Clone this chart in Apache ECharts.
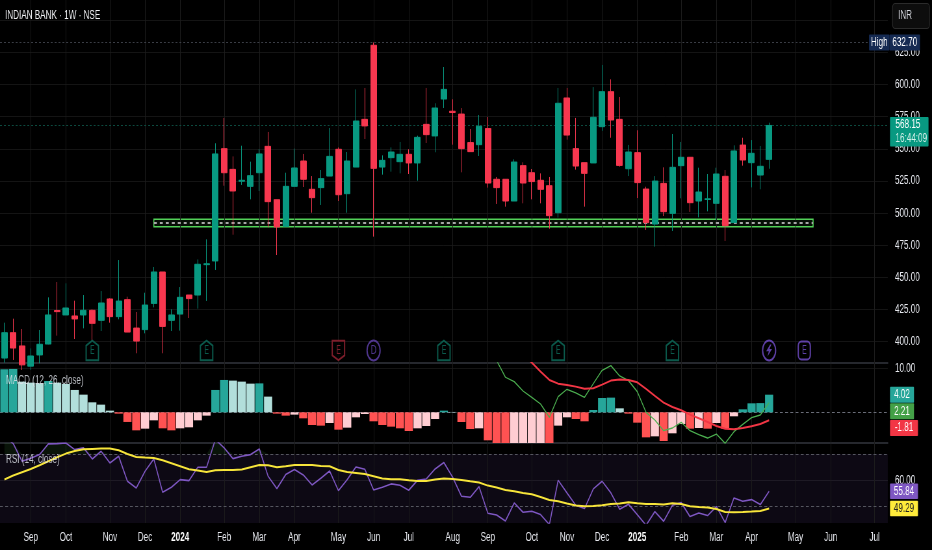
<!DOCTYPE html>
<html>
<head>
<meta charset="utf-8">
<style>html,body{margin:0;padding:0;background:#000;overflow:hidden;width:932px;height:550px;}
#c{width:1434px;height:550px;transform:scaleX(0.64993);transform-origin:0 0;}</style>
<script src="https://cdn.jsdelivr.net/npm/echarts@6/dist/echarts.min.js"></script>
</head>
<body>
<div id="c"></div>
<script>
const FONT = '"Liberation Sans",sans-serif';
const SLOTS = 101;
const tickIndex = [3,7,12,16,20,25,29,33,38,42,46,51,55,60,64,68,72,77,81,85,90,94,99];
const tickLabels = ['Sep','Oct','Nov','Dec','2024','Feb','Mar','Apr','May','Jun','Jul','Aug','Sep','Oct','Nov','Dec','2025','Feb','Mar','Apr','May','Jun','Jul'];
const priceTicks = [400,425,450,475,500,525,550,575,600,625,650];
const priceLabels = [400,425,450,475,500,525,550,575,600,625];

const opens = [387.3,407.0,396.7,381.0,389.7,398.2,424.2,420.8,420.0,420.8,424.4,416.6,433.2,419.5,432.7,410.6,409.4,429.8,454.2,416.6,421.5,436.3,436.3,459.9,462.8,550.1,534.0,524.8,520.8,531.4,551.9,510.4,489.7,520.8,540.5,518.5,519.8,528.8,549.6,515.1,535.8,572.9,630.5,535.8,543.1,540.0,545.7,539.0,569.0,560.0,588.7,579.2,577.0,554.8,553.2,565.7,526.3,526.3,509.4,536.9,531.4,525.5,521.3,500.3,589.5,550.1,539.2,539.0,567.2,594.4,572.9,534.5,547.0,518.7,491.5,523.1,499.8,536.9,543.4,509.4,510.6,507.6,528.6,492.6,552.9,539.2,529.6,541.8];
const closes = [407.0,395.1,382.0,388.9,398.0,420.8,423.4,426.2,417.7,424.4,414.3,430.1,419.5,431.6,407.5,400.5,428.5,454.2,411.9,420.8,434.5,433.5,460.2,460.6,546.0,531.4,517.2,525.5,529.1,546.0,508.9,489.2,520.8,535.1,526.3,512.0,526.8,544.1,514.3,540.5,571.6,567.8,534.8,541.0,547.5,545.7,539.0,558.9,561.0,581.7,596.2,578.2,550.1,547.8,567.5,523.4,519.8,509.4,539.7,523.4,524.5,518.5,498.0,585.4,560.7,536.6,530.9,574.5,594.4,572.4,537.1,547.5,523.7,492.6,524.9,501.1,535.6,543.4,508.1,516.4,511.1,530.4,490.2,548.3,541.3,546.5,536.4,568.15];
const lows = [383.7,385.8,378.0,378.0,383.2,398.0,404.7,420.8,402.1,410.4,400.0,408.3,414.8,417.4,407.5,391.0,406.5,426.7,391.0,408.3,408.6,418.4,425.7,431.7,455.8,521.3,483.2,521.9,510.7,517.2,488.9,467.4,489.7,520.8,520.3,500.3,506.3,528.8,509.4,500.3,535.8,557.6,481.7,529.9,532.2,530.9,530.4,525.2,554.5,547.3,581.7,553.2,531.7,547.8,544.4,519.8,507.1,505.0,509.4,507.6,510.7,507.6,487.9,496.5,557.1,533.8,505.0,539.0,563.9,558.6,536.1,528.8,511.7,486.9,473.9,497.7,486.1,511.5,500.9,496.7,501.4,494.6,478.3,492.6,536.9,520.0,518.5,534.5];
const highs = [414.8,417.9,409.9,394.8,409.1,434.5,446.4,445.4,431.9,436.3,425.2,439.4,433.7,463.5,435.0,423.1,438.1,458.1,454.2,425.2,442.5,436.3,464.0,479.6,554.3,574.0,544.1,552.4,540.0,549.8,563.1,510.4,531.4,550.1,546.0,528.8,533.5,566.2,551.1,547.5,596.2,597.3,632.7,544.9,551.1,555.3,549.6,560.2,597.3,585.4,613.6,588.5,581.7,565.4,576.3,574.7,528.1,526.3,541.8,539.5,534.3,530.9,528.1,597.3,597.3,574.0,539.2,598.0,615.2,604.0,590.3,553.0,564.4,520.5,528.8,535.6,561.5,555.3,543.4,535.3,530.4,535.3,533.5,552.7,558.6,556.8,552.2,570.3];

const macdHist = [9.82,9.89,7.0,6.77,6.62,7.15,6.77,6.47,5.1,4.03,2.28,1.75,0.38,-0.3,-2.2,-4.11,-3.73,-1.83,-3.65,-4.11,-3.65,-3.42,-1.83,-0.76,5.1,7.38,7.23,7.0,6.54,6.6,3.58,-0.3,-0.76,-0.53,-1.37,-2.89,-3.04,-2.44,-3.96,-3.5,-1.14,-0.38,-2.05,-2.89,-3.27,-3.65,-4.26,-3.65,-3.12,-1.52,0.38,0.08,-2.21,-3.81,-3.65,-6.39,-7.6,-8.2,-8.0,-7.7,-7.4,-7.2,-7.5,-3.04,-1.14,-1.52,-2.05,0.53,3.27,3.35,0.91,-0.3,-2.36,-5.71,-5.48,-6.54,-4.79,-2.66,-3.73,-3.58,-3.73,-2.44,-3.73,-0.91,0.68,2.05,2.1,4.02];
const macdStart = 55;
const macdLine = [14.0,11.8,8.0,7.0,4.87,3.42,1.9,-1.14,3.58,5.25,4.41,3.42,6.54,9.59,10.65,8.3,7.23,4.72,0,-1.75,-4.19,-3.58,-2.28,-4.19,-5.1,-5.86,-4.95,-7.08,-4.41,-2.74,-1.22,-0.61,2.21];
const signalStart = 59;
const signalLine = [13.1,11.34,9.28,7.38,6.54,6.24,5.86,5.4,5.48,6.32,7.23,7.46,7.38,6.85,5.33,3.73,2.21,1.22,0.46,-0.53,-1.37,-2.21,-3.12,-3.73,-3.88,-3.58,-3.2,-2.66,-1.81];

const rsi = [76.7,73.95,67.24,68.38,69.77,73.83,73.95,74.2,71.67,72.31,68.12,71.04,66.6,69.14,59.63,57.1,63.43,68.12,55.45,57.35,60.27,59.89,64.96,64.96,75.5,72.31,68.25,69.14,69.77,71.93,61.53,56.84,62.17,64.07,62.04,58.24,60.77,63.56,56.08,60.27,65.08,64.2,56.34,57.35,58.62,58.11,56.21,60.01,60.52,64.32,66.73,61.15,53.93,53.55,57.6,47.47,46.83,44.55,51.39,47.85,48.23,46.96,43.16,60.01,55.2,50.51,49.24,56.72,59.63,55.2,48.99,50.89,46.96,42.9,48.1,44.42,50.51,51.52,46.2,47.59,46.58,50.0,43.92,53.3,52.03,52.66,50.76,55.84];
const rsiMa = [60.27,61.79,63.05,64.32,65.72,67.24,68.76,70.15,71.17,71.8,71.93,72.05,72.05,71.42,70.03,68.88,68.63,68.5,67.62,66.48,65.34,64.2,63.69,63.18,63.81,63.94,63.94,64.07,64.96,65.84,65.72,64.96,65.34,65.84,65.84,65.84,65.46,65.34,63.94,63.18,62.8,62.42,61.53,60.65,60.39,60.39,60.01,59.76,59.76,60.27,60.65,60.52,60.14,59.63,59.13,57.98,57.22,56.34,55.83,55.2,54.69,53.68,52.53,52.03,51.14,50.38,50.13,50.25,50.51,51.01,51.14,51.65,51.27,51.01,51.01,50.76,51.27,51.01,50.13,49.87,49.62,49.11,47.97,47.85,47.97,48.1,48.35,49.29];

const eventIdx = [10,23,38,42,50,63,76,87,91];
const eventKinds = ['up','up','down','circle','up','up','up','bolt','box'];
const eventText = ['E','E','E','D','E','E','E','','E'];
const eventPrice = 393.2;

const zoneStart = 17, zoneEnd = 92, zoneTop = 495.2, zoneBottom = 489.4, zoneMid = 492.3;
const highPrice = 632.7, lastPrice = 568.15;

const categories = Array.from({length:SLOTS},(_,i)=>String(i));
const pad = (start, arr) => Array(start).fill(null).concat(arr);

const SQUEEZE = 932/1434;
const X = v => v/SQUEEZE;
const PRICE_MIN = 383.44, PRICE_MAX = 665.7;
const MACD_MIN = -7, MACD_MAX = 11.25;
const RSI_MIN = 43.76, RSI_MAX = 74.18;
const SPACING = X(8.797);

const UP = '#089981', DOWN = '#F7374F', GRID = '#141414', VGRID = '#1c1c1c';
const TEXT = '#e6e8ee';
const axisText = {color:TEXT, fontFamily:FONT, fontSize:12.5};

const verticals = tickIndex.map(i=>({xAxis:i, lineStyle:{color:VGRID,type:'solid',width:1}}));

const xBase = (g)=>({type:'category', gridIndex:g, data:categories, boundaryGap:true,
  axisTick:{show:false}, splitLine:{show:false},
  axisLine:{show:g<2, onZero:false, lineStyle:{color:'#26282e', width:2}},
  axisLabel: g<2 ? {show:false} : {
    show:true, margin:8, hideOverlap:false,
    color:TEXT, fontFamily:FONT, fontSize:12.5,
    interval:(i)=>tickIndex.includes(i),
    formatter:(v)=>{const k=tickIndex.indexOf(Number(v)); if(k<0) return ''; const t=tickLabels[k]; return /^\d+$/.test(t)?'{b|'+t+'}':t;},
    rich:{b:{fontWeight:'bold', color:'#ffffff', fontFamily:FONT, fontSize:12.5}}
  }});
const yBase = (g,min,max,ticks,labels)=>({type:'value', gridIndex:g, position:'right', min, max, scale:true,
  axisLine:{show:false}, axisTick:{show:false, customValues:ticks},
  splitLine:{show:true, lineStyle:{color:GRID, width:1}},
  axisLabel:Object.assign({show:true, margin:11, customValues:labels, formatter:v=>Number(v).toFixed(2)},axisText)});

const candleData = opens.map((o,i)=>[o,closes[i],lows[i],highs[i]]);
const histColor = (p)=>{const i=p.dataIndex,v=macdHist[i],pr=i>0?macdHist[i-1]:v;
  if(v>=0) return v>=pr?'#26A69A':'#B2DFDB'; return v<pr?'#FF5252':'#FFCDD2';};

const kindStyle = {
  up:{symbol:'path://M9 0 L18 5 L18 20 L0 20 L0 5 Z', size:[19,19.5], color:'#0e6f5e'},
  down:{symbol:'path://M0 0 L18 0 L18 15 L9 20 L0 15 Z', size:[19,19.5], color:'#9c2636'},
  circle:{symbol:'circle', size:[20,20], color:'#6344b0'},
  bolt:{symbol:'circle', size:[20,20], color:'#7650cf'},
  box:{symbol:'roundRect', size:[18.5,18], color:'#7650cf'}
};
const eventData = eventIdx.map((x,i)=>{const s=kindStyle[eventKinds[i]];return {
  value:[x,eventPrice], symbol:s.symbol, symbolSize:s.size,
  itemStyle:{color:'#000', borderColor:s.color, borderWidth:2},
  label:{show:!!eventText[i], position:'inside', formatter:eventText[i], color:s.color, fontSize:12, fontFamily:'"DejaVu Sans"'}};});
const boltData = eventIdx.filter((x,i)=>eventKinds[i]==='bolt').map(x=>({
  value:[x,eventPrice], symbol:'path://M7 0 L1 9 L5 9 L3 16 L10 6 L6 6 L9 0 Z', symbolSize:[9,12],
  itemStyle:{color:kindStyle.bolt.color}}));

const option = {
  animation:false, backgroundColor:'#000',
  grid:[
    {left:X(-0.73), width:SLOTS*SPACING, top:0, height:363},
    {left:X(-0.73), width:SLOTS*SPACING, top:363, height:80},
    {left:X(-0.73), width:SLOTS*SPACING, top:443, height:80}
  ],
  xAxis:[xBase(0),xBase(1),xBase(2)],
  yAxis:[
    yBase(0,PRICE_MIN,PRICE_MAX,priceTicks,priceLabels),
    yBase(1,MACD_MIN,MACD_MAX,[10],[10]),
    yBase(2,RSI_MIN,RSI_MAX,[60],[60])
  ],
  series:[
    {type:'line', name:'priceGuides', xAxisIndex:0, yAxisIndex:0, data:[], z:1,
      markLine:{silent:true, symbol:'none', z:1, label:{show:false}, animation:false, data:[
        ...verticals,
        {yAxis:highPrice, lineStyle:{color:'#3a3d45', type:[3,3], width:1}},
        {yAxis:lastPrice, lineStyle:{color:'#0c4a3f', type:[3,3], width:1}},
        [{xAxis:zoneStart,yAxis:zoneMid,lineStyle:{color:'#a8a8a8',type:[4.6,4.6],width:2}},{xAxis:zoneEnd,yAxis:zoneMid}]
      ]},
      markArea:{silent:true, z:1, animation:false, label:{show:false},
        itemStyle:{color:'rgba(76,175,80,0.08)', borderColor:'#52d058', borderWidth:1.6},
        data:[[{xAxis:zoneStart,yAxis:zoneTop},{xAxis:zoneEnd,yAxis:zoneBottom}]]}
    },
    {type:'candlestick', name:'candles', xAxisIndex:0, yAxisIndex:0, data:candleData, barWidth:9.5, z:3, clip:true,
      itemStyle:{color:UP,color0:DOWN,borderColor:UP,borderColor0:DOWN,borderWidth:1}},
    {type:'scatter', name:'events', xAxisIndex:0, yAxisIndex:0, data:eventData, z:5},
    {type:'scatter', name:'eventBolt', xAxisIndex:0, yAxisIndex:0, data:boltData, z:6},

    {type:'bar', name:'hist', xAxisIndex:1, yAxisIndex:1, data:macdHist, barWidth:'93%', z:2, itemStyle:{color:histColor},
      markLine:{silent:true, symbol:'none', z:1, label:{show:false}, animation:false, data:[
        ...verticals,
        {yAxis:0, lineStyle:{color:'#6a6d78', type:[4.5,3.5], width:1}}
      ]}},
    {type:'line', name:'macd', xAxisIndex:1, yAxisIndex:1, data:pad(macdStart,macdLine), showSymbol:false, z:4,
      lineStyle:{color:'#4CAF50', width:1.3}},
    {type:'line', name:'signal', xAxisIndex:1, yAxisIndex:1, data:pad(signalStart,signalLine), showSymbol:false, z:5,
      lineStyle:{color:'#F23645', width:2}},

    {type:'line', name:'rsiGuides', xAxisIndex:2, yAxisIndex:2, data:[], z:1,
      markArea:{silent:true, z:1, animation:false, label:{show:false}, itemStyle:{color:'rgba(126,87,194,0.1)'},
        data:[[{yAxis:70},{yAxis:RSI_MIN}]]},
      markLine:{silent:true, symbol:'none', z:1, label:{show:false}, animation:false, data:[
        ...verticals,
        {yAxis:70, lineStyle:{color:'#55565f', type:[4.5,3.5], width:1}},
        {yAxis:50, lineStyle:{color:'#55565f', type:[4.5,3.5], width:1}}
      ]}},
    {type:'line', name:'rsiOver', xAxisIndex:2, yAxisIndex:2, data:rsi.map(v=>Math.max(v,70)), showSymbol:false, z:2,
      lineStyle:{width:0,opacity:0}, areaStyle:{origin:70,color:'rgba(76,175,80,0.16)'}},
    {type:'line', name:'rsi', xAxisIndex:2, yAxisIndex:2, data:rsi, showSymbol:false, z:3,
      lineStyle:{color:'#7E57C2', width:1.6}},
    {type:'line', name:'rsiMa', xAxisIndex:2, yAxisIndex:2, data:rsiMa, showSymbol:false, z:4,
      lineStyle:{color:'#F7E53B', width:2}}
  ]
};
const chart = echarts.init(document.getElementById('c'),null,{renderer:'canvas'});
chart.setOption(option);

const py = (axis,v)=>chart.convertToPixel({yAxisIndex:axis},v);
const TXT = {fontFamily:FONT, fontSize:12.5};
const chip = (x,y,w,h,fill,text,fg)=>[
  {type:'rect', z:20, shape:{x:X(x),y,width:X(w),height:h,r:1}, style:{fill}, silent:true},
  {type:'text', z:21, style:Object.assign({x:X(x+w/2),y:y+h/2,text,fill:fg,align:'center',verticalAlign:'middle'},TXT), silent:true}
];
const label = (x,y,text,fill,extra)=>({type:'text', z:22, silent:true,
  style:Object.assign({x:X(x),y,text,fill,align:'left',verticalAlign:'middle'},TXT,extra||{})});
const hy = py(0,highPrice), ly = py(0,lastPrice), histY = py(1,macdHist[87]), rY = py(2,55.84), mY = py(2,49.29);
const elems = [
  label(5,16,'INDIAN BANK \u00B7 1W \u00B7 NSE','#f0f1f4'),
  label(6,380.5,'MACD (12, 26, close)','rgba(225,228,235,0.82)'),
  label(6,459.5,'RSI (14, close)','rgba(225,228,235,0.82)'),
  {type:'rect', z:20, silent:true, shape:{x:X(892.5),y:3.5,width:X(37),height:25,r:4}, style:{fill:'#0d0d0d',stroke:'#2b2b2b',lineWidth:1.2}},
  label(898,16,'INR','#d8dae0'),
  ...chip(869,hy-8,20.5,16,'#152a52','High','#ffffff'),
  ...chip(889.5,hy-8,30.5,16,'#152a52','632.70','#ffffff'),
  {type:'rect', z:20, silent:true, shape:{x:X(890),y:ly-8.5,width:X(38.5),height:29.5,r:1}, style:{fill:UP}},
  label(895.5,ly-0.5,'568.15','#ffffff'),
  label(895.5,ly+13.5,'16:44:09','#d4f0ea'),
  ...chip(890,histY-8,24,16,'#26A69A','4.02','#ffffff'),
  ...chip(890,403.3,24,16,'#43A047','2.21','#ffffff'),
  ...chip(890,420,28,16,'#F23645','-1.81','#ffffff'),
  ...chip(890,rY-7.7,28,15.4,'#7E57C2','55.84','#ffffff'),
  ...chip(890,mY-7.7,28,15.4,'#FFEB3B','49.29','#222222')
];
chart.setOption({graphic:{elements:elems}});
</script>
</body>
</html>
